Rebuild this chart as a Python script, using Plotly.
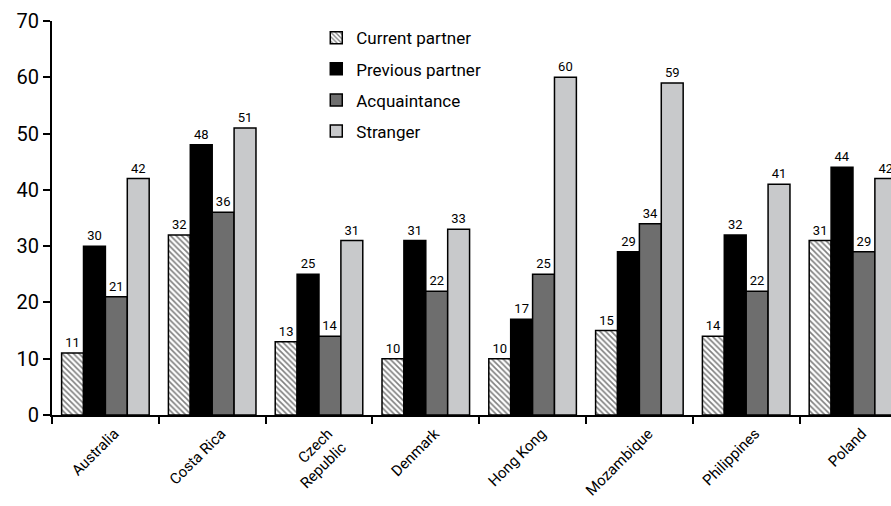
import plotly.graph_objects as go

categories = ["Australia", "Costa Rica", "Czech<br>Republic", "Denmark", "Hong Kong",
              "Mozambique", "Philippines", "Poland"]
current_partner = [11, 32, 13, 10, 10, 15, 14, 31]
previous_partner = [30, 48, 25, 31, 17, 29, 32, 44]
acquaintance = [21, 36, 14, 22, 25, 34, 22, 29]
stranger = [42, 51, 31, 33, 60, 59, 41, 42]

FONT = "Roboto, Liberation Sans, sans-serif"

fig = go.Figure()
series = [
    ("Current partner", current_partner, dict(color="white", pattern=dict(shape="\\", fgcolor="black", bgcolor="white", size=4, solidity=0.4))),
    ("Previous partner", previous_partner, dict(color="black")),
    ("Acquaintance", acquaintance, dict(color="#6e6e6e")),
    ("Stranger", stranger, dict(color="#c8c9cb")),
]
for i, (name, vals, mk) in enumerate(series):
    mk = dict(mk)
    mk["line"] = dict(color="black", width=1.5)
    fig.add_trace(go.Bar(
        name=name, x=categories, y=vals, marker=mk,
        text=[str(v) for v in vals], textposition="outside",
        textfont=dict(size=13, color="black", family=FONT),
        cliponaxis=False, legendgroup=str(i),
    ))

fig.update_layout(
    width=891, height=506,
    margin=dict(l=52, r=0, t=21, b=91),
    plot_bgcolor="white", paper_bgcolor="white",
    barmode="group", bargap=0.18, bargroupgap=0,
    font=dict(family=FONT, color="black"),
    showlegend=True,
    legend=dict(x=0.315, y=1.002, xanchor="left", yanchor="top",
                font=dict(size=17, family=FONT, color="black"),
                bgcolor="rgba(0,0,0,0)", tracegroupgap=6, itemwidth=30),
    xaxis=dict(range=[-0.5, 7.356], showline=True, linecolor="black", linewidth=2,
               ticks="outside", tickson="boundaries", ticklen=7, tickwidth=2, tickcolor="black",
               tickangle=-45, tickfont=dict(size=15, family=FONT), showgrid=False,
               ticklabelstandoff=2, ticklabelshift=9, automargin=False),
    yaxis=dict(range=[0, 70], dtick=10, showline=True, linecolor="black", linewidth=2,
               ticks="outside", ticklen=7, tickwidth=2, tickcolor="black",
               tickfont=dict(size=20, family=FONT), showgrid=False, zeroline=False,
               automargin=False),
)

fig.write_html("out.html", config={"displayModeBar": False},
               post_script="document.body.style.margin='0px';document.body.style.overflow='hidden';")
